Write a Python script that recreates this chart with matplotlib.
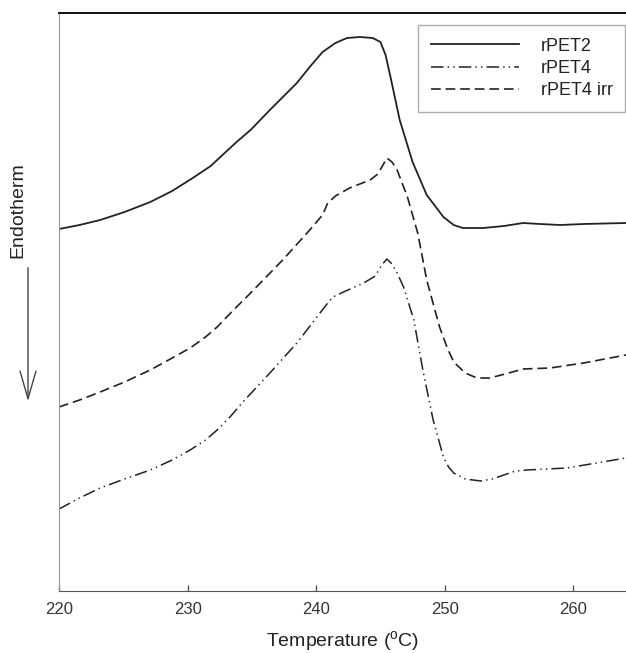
import matplotlib
matplotlib.use('Agg')
import matplotlib.pyplot as plt

# data (arbitrary heat-flow units)
t_rpet2 = [220.0, 221.6, 223.2, 225.1, 227.1, 228.8, 230.4, 231.8, 232.8, 233.9, 234.9,
           236.4, 238.5, 239.5, 240.5, 241.5, 242.4, 243.4, 244.4, 245.0, 245.4, 245.8,
           246.5, 247.5, 248.6, 249.9, 250.7, 251.4, 253.0, 254.6, 256.1, 257.4, 259.0,
           260.8, 264.1]
hf_rpet2 = [3.62, 3.66, 3.71, 3.79, 3.89, 4.00, 4.13, 4.25, 4.37, 4.50, 4.61,
            4.81, 5.08, 5.24, 5.39, 5.48, 5.53, 5.54, 5.53, 5.49, 5.36, 5.13,
            4.71, 4.29, 3.96, 3.74, 3.66, 3.63, 3.63, 3.65, 3.68, 3.67, 3.66,
            3.67, 3.68]

t_rpet4_irr = [220.0, 221.6, 223.2, 225.1, 227.1, 228.8, 230.2, 231.4, 232.3, 233.5,
               234.9, 237.4, 239.5, 240.5, 240.9, 241.5, 242.6, 244.2, 244.8, 245.2,
               245.5, 245.9, 246.3, 247.1, 247.9, 248.6, 249.6, 250.2, 250.7, 251.6,
               252.5, 253.5, 254.7, 256.1, 258.2, 260.8, 264.1]
hf_rpet4_irr = [1.84, 1.91, 1.99, 2.09, 2.21, 2.33, 2.43, 2.54, 2.64, 2.80,
                2.98, 3.31, 3.61, 3.76, 3.88, 3.95, 4.03, 4.11, 4.17, 4.26,
                4.33, 4.29, 4.21, 3.94, 3.58, 3.11, 2.64, 2.43, 2.29, 2.18,
                2.13, 2.13, 2.17, 2.22, 2.23, 2.28, 2.36]

t_rpet4 = [220.0, 221.6, 223.2, 225.1, 227.1, 228.8, 230.2, 231.4, 232.3, 233.3,
           234.3, 236.4, 238.5, 240.3, 240.9, 241.3, 242.3, 243.7, 244.6, 245.1,
           245.5, 245.9, 246.3, 246.8, 247.6, 248.3, 249.1, 249.9, 250.3, 250.7,
           251.6, 252.8, 253.7, 254.6, 255.5, 256.4, 259.5, 264.1]
hf_rpet4 = [0.82, 0.93, 1.03, 1.12, 1.21, 1.31, 1.41, 1.51, 1.61, 1.74,
            1.89, 2.18, 2.48, 2.78, 2.88, 2.94, 3.00, 3.08, 3.15, 3.26,
            3.32, 3.27, 3.18, 3.04, 2.71, 2.21, 1.71, 1.34, 1.24, 1.18,
            1.12, 1.10, 1.12, 1.16, 1.20, 1.21, 1.23, 1.33]

x_ticks = [220, 230, 240, 250, 260]

plt.rcParams['font.family'] = ['Liberation Sans', 'DejaVu Sans']
plt.rcParams['mathtext.fontset'] = 'custom'
plt.rcParams['mathtext.rm'] = 'Liberation Sans'
plt.rcParams['lines.scale_dashes'] = False

fig = plt.figure(figsize=(6.26, 6.53), dpi=100)
ax = fig.add_axes([59 / 626, 62 / 653, 567 / 626, 578 / 653])

ink = '#222222'
ax.plot(t_rpet2, hf_rpet2, color=ink, lw=1.3, label='rPET2')
ax.plot(t_rpet4, hf_rpet4, color=ink, lw=1.1, dashes=(9, 3, 1, 3, 1, 3), label='rPET4')
ax.plot(t_rpet4_irr, hf_rpet4_irr, color=ink, lw=1.2, dashes=(7, 3.5), label='rPET4 irr')

ax.set_xlim(220, 264.1)
ax.set_ylim(0, 5.78)
ax.set_xticks(x_ticks)
ax.set_yticks([])
ax.tick_params(axis='x', direction='in', length=4, width=1, color='#555555',
               labelsize=12, labelcolor='#333333', pad=8)

ax.spines['right'].set_visible(False)
ax.spines['top'].set_color('#111111')
ax.spines['top'].set_linewidth(1.4)
ax.spines['left'].set_color('#999999')
ax.spines['bottom'].set_color('#555555')

ax.set_xlabel(r'Temperature ($^\mathrm{o}$C)', fontsize=14, color='#222222', labelpad=9)

leg = ax.legend(loc='upper left', bbox_to_anchor=(418 / 626, 1 - 25 / 653),
                bbox_transform=fig.transFigure, borderaxespad=0, fontsize=13,
                handlelength=4.9, handletextpad=1.2, labelspacing=0.3,
                borderpad=0.7, fancybox=False, edgecolor='#999999')
leg.get_frame().set_linewidth(1.0)
for txt in leg.get_texts():
    txt.set_color('#222222')

fig.text(18 / 626, 1 - 210 / 653, 'Endotherm', rotation=90, ha='center', va='center',
         fontsize=14, color='#222222')
fig.add_artist(matplotlib.patches.FancyArrowPatch(
    (28 / 626, 1 - 265 / 653), (28 / 626, 1 - 404 / 653), transform=fig.transFigure,
    arrowstyle='->,head_length=9,head_width=2.6', mutation_scale=2.2,
    color='#444444', lw=1.0))

fig.savefig('out.png', dpi=100)
